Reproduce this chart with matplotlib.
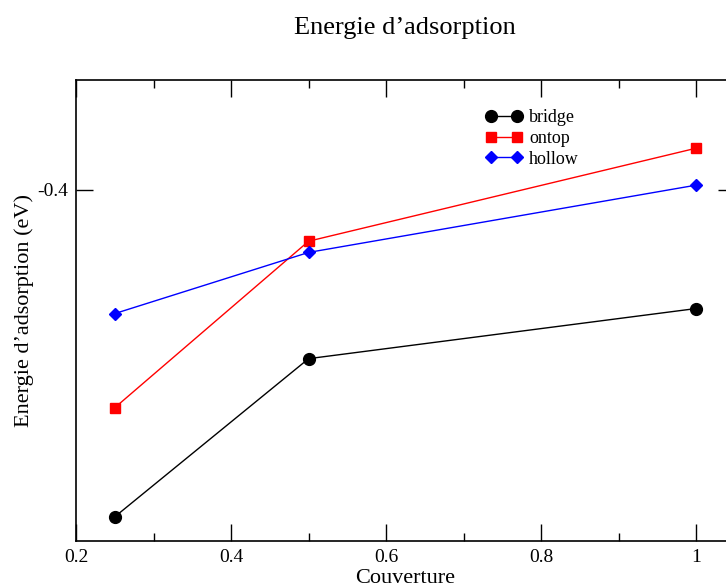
import matplotlib
matplotlib.use("Agg")
import matplotlib.pyplot as plt
from matplotlib.ticker import MultipleLocator

plt.rcParams['font.family'] = ['Liberation Serif', 'DejaVu Serif']

coverage = [0.25, 0.5, 1.0]
bridge = [-0.5486, -0.4767, -0.4539]
ontop = [-0.4990, -0.4233, -0.3810]
hollow = [-0.4562, -0.4284, -0.3978]

fig = plt.figure(figsize=(7.26, 5.86), dpi=100)
ax = fig.add_axes([0.1047, 0.0768, 0.9077, 0.7867])

ax.plot(coverage, bridge, color="black", lw=1, marker="o", ms=8.5, label="bridge")
ax.plot(coverage, ontop, color="red", lw=1, marker="s", ms=7.5, label="ontop")
ax.plot(coverage, hollow, color="blue", lw=1, marker="D", ms=6, label="hollow")

ax.set_xlim(0.2, 1.05)
ax.set_ylim(-0.5596, -0.35)
ax.xaxis.set_major_locator(MultipleLocator(0.2))
ax.xaxis.set_minor_locator(MultipleLocator(0.1))
ax.yaxis.set_major_locator(MultipleLocator(0.2))
ax.yaxis.set_major_formatter(plt.FuncFormatter(lambda v, p: f"{v:g}"))
ax.xaxis.set_major_formatter(plt.FuncFormatter(lambda v, p: f"{v:g}"))
ax.tick_params(which="both", direction="in", top=True, right=True, labelsize=14, width=1)
ax.tick_params(which="major", length=12, pad=6)
ax.tick_params(which="minor", length=6)
for s in ax.spines.values():
    s.set_linewidth(1.2)

ax.set_xlabel("Couverture", fontsize=16, labelpad=2)
ax.set_ylabel("Energie d\u2019adsorption (eV)", fontsize=16, labelpad=2)
fig.text(0.557, 0.953, "Energie d\u2019adsorption", fontsize=19, ha="center", va="center")

ax.legend(loc="upper left", bbox_to_anchor=(0.6465, 0.841), bbox_transform=fig.transFigure,
          frameon=False, fontsize=13, numpoints=2, handlelength=2.05, handletextpad=0.35,
          labelspacing=0.2)

fig.savefig("out.png", dpi=100)
